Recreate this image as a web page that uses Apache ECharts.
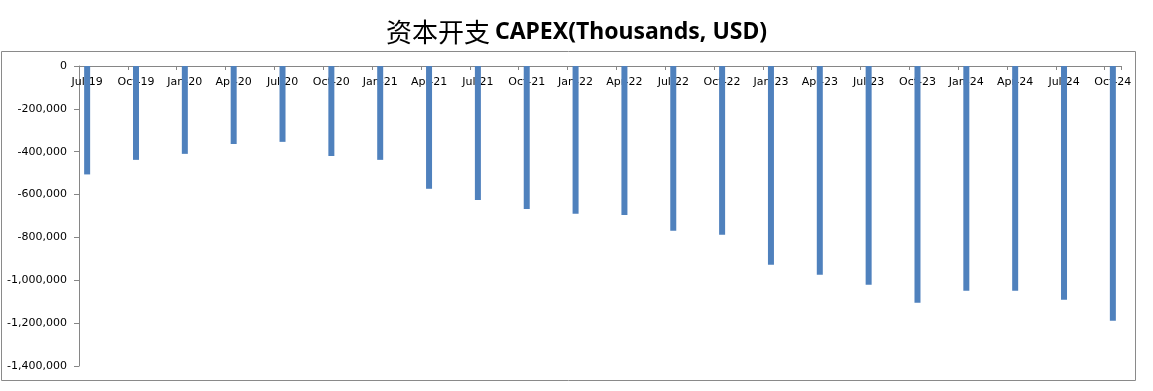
<!DOCTYPE html>
<html>
<head>
<meta charset="utf-8">
<script src="https://cdn.jsdelivr.net/npm/echarts@6/dist/echarts.min.js"></script>
<style>
html,body{margin:0;padding:0;background:#fff;}
#chart{width:1153px;height:391px;}
</style>
</head>
<body>
<div id="chart"></div>
<script>
// Quarter labels (each bar sits on the first month of the quarter on a monthly axis)
const quarterLabels = ['Jul-19','Oct-19','Jan-20','Apr-20','Jul-20','Oct-20','Jan-21','Apr-21','Jul-21','Oct-21','Jan-22','Apr-22','Jul-22','Oct-22','Jan-23','Apr-23','Jul-23','Oct-23','Jan-24','Apr-24','Jul-24','Oct-24'];
// CAPEX values (thousands USD)
const capexValues = [-506000,-438000,-410000,-364000,-354000,-420000,-438000,-573000,-625000,-667000,-690000,-695000,-769000,-788000,-928000,-974000,-1021000,-1105000,-1049000,-1049000,-1091000,-1189000];
// Y axis ticks
const yTicks = [0,-200000,-400000,-600000,-800000,-1000000,-1200000,-1400000];
const titleCn = '资本开支';
const titleEn = 'CAPEX(Thousands, USD)';

// Build monthly axis: each quarter month followed by two months without data
const monthCats = [];
const monthVals = [];
quarterLabels.forEach((q, i) => {
  monthCats.push(q); monthVals.push(capexValues[i]);
  if (i < quarterLabels.length - 1) {
    monthCats.push(q + '_m2'); monthVals.push(null);
    monthCats.push(q + '_m3'); monthVals.push(null);
  }
});

const chart = echarts.init(document.getElementById('chart'));
const font = 'DejaVu Sans';
chart.setOption({
  animation: false,
  backgroundColor: '#fff',
  title: {
    text: '{cn|' + titleCn + '} {en|' + titleEn + '}',
    left: 'center',
    top: 14,
    textStyle: {
      rich: {
        cn: {fontFamily: 'Noto Sans CJK SC', fontSize: 26, fontWeight: 'normal', color: '#000'},
        en: {fontFamily: 'Noto Sans', fontSize: 23, fontWeight: 'bold', color: '#000'}
      }
    }
  },
  graphic: [{
    type: 'rect',
    shape: {x: 1.5, y: 51.5, width: 1134, height: 329},
    style: {fill: 'none', stroke: '#8a8a8a', lineWidth: 1},
    silent: true, z: -1
  }],
  grid: {left: 79, right: 32, top: 66, bottom: 25, containLabel: false},
  xAxis: {
    type: 'category',
    position: 'top',
    data: monthCats,
    boundaryGap: true,
    axisLine: {onZero: false, lineStyle: {color: '#868686', width: 1}},
    axisTick: {show: true, inside: true, interval: 2, length: 4, lineStyle: {color: '#868686'}},
    axisLabel: {
      inside: true, interval: 2, margin: 11, color: '#000', fontFamily: font, fontSize: 11,
      verticalAlign: 'top',
      formatter: v => v.indexOf('_') >= 0 ? '' : v
    },
    splitLine: {show: false}
  },
  yAxis: {
    type: 'value',
    min: yTicks[yTicks.length - 1],
    max: yTicks[0],
    interval: 200000,
    axisLine: {show: true, lineStyle: {color: '#868686', width: 1}},
    axisTick: {show: true, length: 5, lineStyle: {color: '#868686'}},
    axisLabel: {
      color: '#000', fontFamily: font, fontSize: 11, margin: 12,
      formatter: v => v === 0 ? '0' : (v < 0 ? '-' : '') + Math.abs(v).toLocaleString('en-US')
    },
    splitLine: {show: false}
  },
  series: [{
    type: 'bar',
    data: monthVals,
    barWidth: 6,
    itemStyle: {color: '#4f81bd'},
    silent: true
  }]
});
</script>
</body>
</html>
